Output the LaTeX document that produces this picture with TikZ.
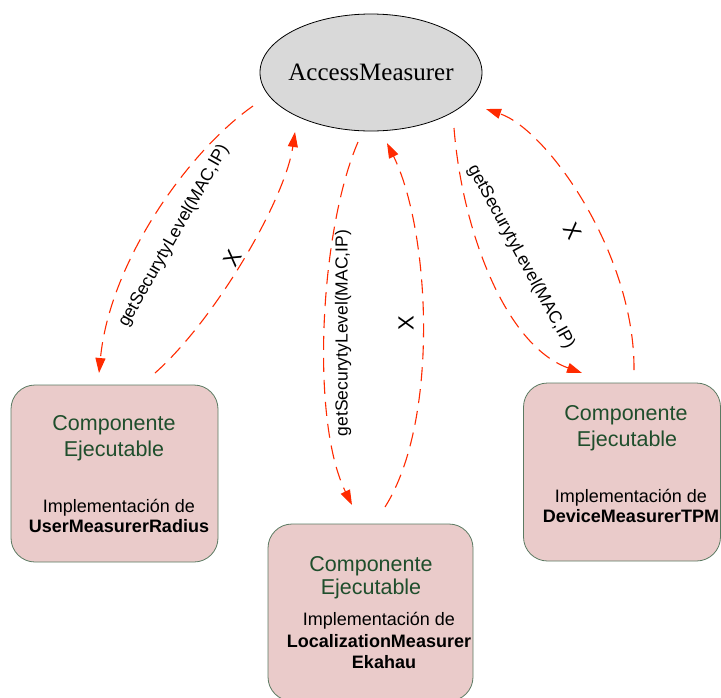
\documentclass[tikz,border=0pt]{standalone}
\usepackage{fontspec}
\setmainfont{Liberation Serif}
\newfontfamily\arialfam{Liberation Sans}
\usetikzlibrary{shapes.geometric,arrows.meta,calc}

\definecolor{boxfill}{HTML}{EACBCA}
\definecolor{boxline}{HTML}{5B7A62}
\definecolor{titlegreen}{HTML}{1F4E2C}
\definecolor{callred}{HTML}{FF2A00}
\definecolor{amfill}{HTML}{D9D9D9}

\tikzset{
  measurer/.style={ellipse, draw=black, line width=0.8pt, fill=amfill,
    minimum width=222pt, minimum height=117pt, inner sep=0pt,
    font=\fontsize{25}{30}\selectfont},
  compbox/.style={draw=boxline, line width=0.8pt, fill=boxfill,
    rounded corners=24pt, inner sep=0pt},
  comptitle/.style={anchor=base, inner sep=0pt, text=titlegreen,
    font=\arialfam\fontsize{21.5}{24}\selectfont},
  compimpl/.style={anchor=base, inner sep=0pt, text=black,
    font=\arialfam\fontsize{18}{20}\selectfont},
  compname/.style={anchor=base, inner sep=0pt, text=black,
    font=\arialfam\bfseries\fontsize{18}{20}\selectfont},
  call/.style={draw=callred, line width=1.1pt, dash pattern=on 14pt off 8pt,
    -{Triangle[length=15pt,width=10pt]}},
  calllabel/.style={inner sep=1pt, font=\arialfam\fontsize{17.5}{20}\selectfont},
  refused/.style={inner sep=0pt, font=\arialfam\fontsize{22}{24}\selectfont}
}

\begin{document}
\begin{tikzpicture}[x=1pt,y=-1pt]
\useasboundingbox (0,0) rectangle (721,697);
\clip (0,0) rectangle (721,697);

% central measurer (text boxed narrower so the ellipse keeps its set size)
\node[measurer] (am) at (371,72.5) {\makebox[120pt][c]{AccessMeasurer}};

% executable components
\node[compbox, minimum width=207pt, minimum height=177pt] (b1) at (114.5,473.5) {};
\node[compbox, minimum width=205pt, minimum height=177pt] (b2) at (370.5,612.5) {};
\node[compbox, minimum width=197pt, minimum height=178pt] (b3) at (622,472) {};

% texts of the left component
\node[comptitle] (b1a) at (114,430) {Componente};
\node[comptitle] (b1b) at (114,456) {Ejecutable};
\node[compimpl]  (b1c) at (119,512) {Implementación de};
\node[compname]  (b1d) at (119,532) {UserMeasurerRadius};

% texts of the middle component
\node[comptitle] (b2a) at (371,571) {Componente};
\node[comptitle] (b2b) at (371,594) {Ejecutable};
\node[compimpl]  (b2c) at (379,625) {Implementación de};
\node[compname]  (b2d) at (379,647) {LocalizationMeasurer};
\node[compname]  (b2e) at (384,668) {Ekahau};

% texts of the right component
\node[comptitle] (b3a) at (626,420) {Componente};
\node[comptitle] (b3b) at (627,446) {Ejecutable};
\node[compimpl]  (b3c) at (631,502) {Implementación de};
\node[compname]  (b3d) at (631,522) {DeviceMeasurerTPM};

% calls to the left component and refused answer
\draw[call] ($(am.center)+(-118,33.5)$) .. controls (190,150) and (110,260) .. ($(b1.center)+(-15.5,-100.5)$);
\draw[call] ($(b1.center)+(40.5,-100.5)$) .. controls (215,320) and (285,200) .. ($(am.center)+(-76,59.5)$);
\node[calllabel, rotate=60.5] (l1) at (174,236) {getSecurytyLevel(MAC,IP)};
\node[refused, rotate=60] (x1) at (233,258) {X};

% calls to the middle component and refused answer
\draw[call] ($(am.center)+(-13,69.5)$) .. controls (320,230) and (310,420) .. ($(b2.center)+(-18.5,-107.5)$);
\draw[call] ($(b2.center)+(14.5,-105.5)$) .. controls (440,420) and (430,230) .. ($(am.center)+(16,70.5)$);
\node[calllabel, rotate=90] (l2) at (343,333) {getSecurytyLevel(MAC,IP)};
\node[refused, rotate=90] (x2) at (406,323) {X};

% calls to the right component and refused answer
\draw[call] ($(am.center)+(83,55.5)$) .. controls (462,230) and (505,345) .. ($(b3.center)+(-40,-99)$);
\draw[call] ($(b3.center)+(12,-102)$) .. controls (635,255) and (548,130) .. ($(am.center)+(115,36.5)$);
\node[calllabel, rotate=-61.5] (l3) at (521,257) {getSecurytyLevel(MAC,IP)};
\node[refused, rotate=-60] (x3) at (573,231) {X};
\end{tikzpicture}
\end{document}
